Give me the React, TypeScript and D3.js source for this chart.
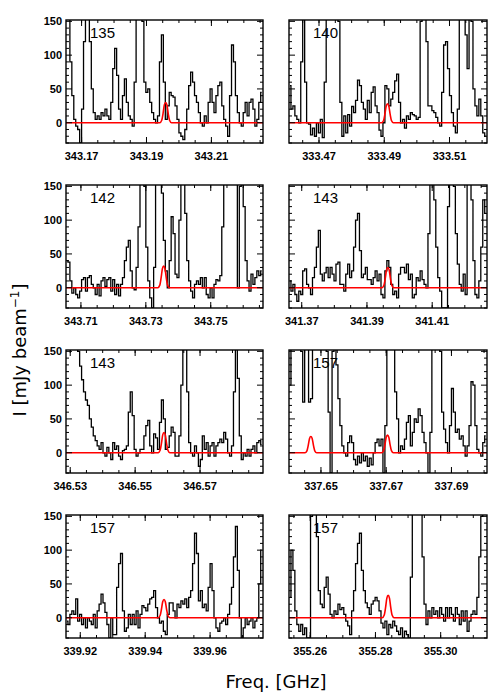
import * as d3 from "d3";
import React from "react";

// panel ids, lower-left tick labels and channel grid
const panelLabels = ["135", "140", "142", "143", "143", "157", "157", "157"];
const freqStart = [343.1655, 333.4611, 343.7057, 341.3664, 346.529, 337.6405, 339.9159, 355.2538];
const chanWidth = 0.0006;
const xTicks = [
  ["343.17", "343.19", "343.21"],
  ["333.47", "333.49", "333.51"],
  ["343.71", "343.73", "343.75"],
  ["341.37", "341.39", "341.41"],
  ["346.53", "346.55", "346.57"],
  ["337.65", "337.67", "337.69"],
  ["339.92", "339.94", "339.96"],
  ["355.26", "355.28", "355.30"],
];
const yTicks = [0, 50, 100, 150];

// red model lines: centre (GHz) and peak (mJy/beam), plus profile
const modelCenters = [[343.1959], [333.491], [343.7355], [341.3964], [346.5589], [337.6469, 337.6704], [339.9458], [355.2839]];
const modelPeaks = [[30], [28], [32], [30], [30], [24, 26], [27], [33]];
const profileOffsets = [-0.0018, -0.0012, -0.0008, -0.0004, 0, 0.0004, 0.0008, 0.0012, 0.0018];
const profileFracs = [0, 0.12, 0.45, 0.88, 1, 0.88, 0.45, 0.12, 0];

const spec135 = [200, 160, 90, 40, 5, -5, -10, -30, 20, 120, 200, 200, 120, 50, 15, 5, 10, 5, 15, 10,
  20, 10, 5, 30, 80, 110, 70, 20, 5, 40, 65, 30, 10, 5, -5, 60, 200, 200, 200, 150,
  60, 45, 50, 30, 15, 5, 0, 10, 90, 130, 60, 5, 25, 45, 40, 38, 25, 5, -15, -20,
  -25, -10, 20, 55, 75, 60, 40, 30, 15, 0, -5, 10, 0, 30, 50, 30, 15, 40, 55, 60,
  25, 5, -5, -20, 40, 115, 90, 40, 15, 0, -5, 15, 30, 10, 30, 35, 20, -5, 5, 30, 45];
const spec140 = [55, 20, 25, 10, 5, 0, 90, 200, 60, 0, -2, -18, -8, -20, 0, -15, 5, -22, 60, 200,
  200, 200, 200, 200, 200, 150, 30, -20, 10, -15, 12, -5, 24, 15, 33, 63, 55, 30, 20, 5,
  33, 15, 45, 53, 25, 15, -11, -20, 0, 55, 50, 25, 35, 45, 62, 72, 30, 0, 5, -8,
  10, 5, 15, 12, 10, 5, 8, 150, 200, 200, 120, 25, 25, 18, 15, 8, 0, -5, 45, 115,
  120, 80, 40, 15, -5, -15, 20, 200, 200, 200, 130, 80, 200, 150, 50, 25, 10, 35, 10, -15, -20];
const spec142 = [40, 38, 10, -8, 0, -10, -15, -5, 12, 15, -5, 15, 18, 5, 0, -10, 5, -12, 10, 15,
  2, 12, 15, -5, 12, -10, 5, -12, 5, 15, 40, 60, 70, 25, 0, -3, 30, 90, 160, 200,
  150, 60, 10, -15, -30, 30, 200, 200, 200, 140, 70, 25, 0, 40, 105, 80, 20, 15, 100, 200,
  200, 110, 40, 10, -5, -15, 5, 10, 5, 15, 0, 15, -10, -15, 0, -15, 5, 12, 10, 18,
  90, 200, 200, 200, 200, 200, 200, 200, 0, 150, 200, 120, 40, 10, -5, 20, 5, 15, 25, 18, 25];
const spec143a = [10, -5, 5, -10, -20, -5, -10, 25, 28, 5, 0, -10, 15, 30, 60, 85, 20, 10, 22, 30,
  15, 30, 20, 10, 35, 38, 5, 5, -5, 20, 35, 15, 25, 60, 100, 110, 55, 15, 20, 30,
  12, 12, 5, 15, 25, 10, 20, -10, -15, 25, 40, 30, 5, -10, -5, -15, 20, 30, 30, 22,
  35, 12, 20, -15, -10, 15, 10, 25, 12, 5, 0, 80, 200, 200, 130, 60, 15, -5, -30, -30,
  -30, 120, 200, 200, 150, 80, 35, 5, -5, 20, -10, 200, 200, 130, 40, -10, -15, 10, 60, 130, 110];
const spec143b = [200, 200, 200, 200, 200, 200, 150, 128, 108, 90, 78, 70, 50, 38, 25, 18, 10, 5, 15, 0,
  -5, 8, 0, -10, 15, 5, 10, -5, -10, 3, 5, 10, 60, 90, 55, 5, -5, 0, 5, 5,
  25, 40, 48, 10, 0, 28, 22, 5, 45, 78, 50, 5, 8, 25, 38, 30, -5, -5, 25, 100,
  200, 200, 90, 15, 0, -5, 10, 0, -20, -10, 25, 5, 15, -5, 10, 15, -5, 10, 15, 20,
  15, 30, 20, 0, -5, 10, 90, 200, 110, 25, -10, 0, -5, 5, -5, 5, 10, 0, 15, 18, 12];
const spec157a = [100, 200, 200, 200, 200, 200, 150, 75, 200, 200, 75, 80, 200, 200, 200, 200, 200, 200, 200, 150,
  60, -30, 150, 200, 130, 80, 40, 10, 0, -5, 15, 25, 15, -10, -18, -5, -15, 0, -12, -5,
  -20, -8, -18, 0, 15, 20, 10, 20, -30, 40, 200, 200, 200, 160, 90, 50, 0, 10, 5, 20,
  45, 55, 10, 30, 50, 45, 65, 55, 30, 15, 0, -30, 30, 200, 200, 200, 200, 150, 60, 35,
  15, 0, 40, 95, 60, 30, 35, 20, 25, 10, -5, 10, 40, 105, 100, 40, 5, 0, -5, 15, 25];
const spec157b = [-5, -10, 5, 10, 5, 28, -5, 5, -10, 0, -15, 0, -5, -10, 5, -15, 10, 20, 35, 22,
  8, -10, -30, 0, -25, -25, 45, 80, 95, 10, -20, -15, 5, -10, 5, -10, 10, -15, 5, 18,
  15, 10, 20, 28, 30, 40, 15, 0, -8, -5, -20, -25, 5, 22, 22, 10, 0, 20, 15, 25,
  20, 28, 15, 30, 40, 80, 125, 95, 25, 40, 15, 20, 10, 45, 80, 40, 0, -15, -20, -8,
  -5, 0, -10, 5, 20, 45, 90, 135, 70, 0, -30, -15, 0, -10, -5, 0, -15, -5, 0, 50, 100];
const spec157c = [30, 100, 70, 10, -10, -20, -10, -25, -15, -30, -30, 150, 200, 200, 120, 40, 20, 15, 45, 60,
  35, 5, 0, 10, 5, 20, 12, 15, 5, -5, -12, -25, 10, 40, 80, 110, 125, 70, 40, 22,
  15, 5, 20, 25, 30, 25, 10, -8, -15, -5, -25, -10, -15, -5, -12, -20, -25, -15, -30, -20,
  -25, -30, 60, 170, 200, 200, 200, 160, 90, 20, -10, 10, 0, 15, 5, 10, 0, 15, 5, -5,
  15, 0, 15, 5, -5, 15, 5, -10, 10, -5, 10, -20, -5, 5, 10, 5, 30, 90, 150, 200, 200];

const spectra = [spec135, spec140, spec142, spec143a, spec143b, spec157a, spec157b, spec157c];

const panelSpan = 0.0607;
const colLeft = [66, 289];
const colWidth = [197, 198];
const rowTop = [20, 185, 350, 515];
const panelH = 123;
const yDomain = [-30, 152];
const tickFont = "'Liberation Sans', Arial, sans-serif";

function Panel({ idx }: { idx: number }) {
  const col = idx % 2;
  const row = Math.floor(idx / 2);
  const left = colLeft[col];
  const w = colWidth[col];
  const top = rowTop[row];
  const x0 = freqStart[idx] - chanWidth / 2;
  const x = d3.scaleLinear().domain([x0, x0 + panelSpan]).range([left, left + w]);
  const y = d3.scaleLinear().domain(yDomain).range([top + panelH, top]);
  const data = spectra[idx];

  // histogram-style spectrum
  const specLine = d3
    .line<number>()
    .x((d, i) => x(freqStart[idx] + i * chanWidth))
    .y((d) => y(d))
    .curve(d3.curveStep);

  const modelPts: [number, number][] = [[x0, 0]];
  modelCenters[idx].forEach((c, k) => {
    profileOffsets.forEach((o, j) => modelPts.push([c + o, modelPeaks[idx][k] * profileFracs[j]]));
  });
  modelPts.push([x0 + panelSpan, 0]);
  const modelLine = d3
    .line<[number, number]>()
    .x((d) => x(d[0]))
    .y((d) => y(d[1]))
    .curve(d3.curveMonotoneX);

  const minorY = d3.range(-30, 151, 10);
  const firstMinor = Math.ceil(x0 / 0.005) * 0.005;
  const minorX = d3.range(firstMinor, x0 + panelSpan, 0.005);
  const clipId = `clip${idx}`;

  return (
    <g>
      <defs>
        <clipPath id={clipId}>
          <rect x={left} y={top} width={w} height={panelH} />
        </clipPath>
      </defs>
      <g clipPath={`url(#${clipId})`}>
        <path d={specLine(data) || ""} fill="none" stroke="#000" strokeWidth={1.3} />
        <path d={modelLine(modelPts) || ""} fill="none" stroke="#f00" strokeWidth={1.6} />
      </g>
      {minorY.map((v) => {
        const len = v % 50 === 0 ? 6 : 3;
        return (
          <g key={"y" + v}>
            <line x1={left} x2={left + len} y1={y(v)} y2={y(v)} stroke="#000" strokeWidth={1} />
            <line x1={left + w - len} x2={left + w} y1={y(v)} y2={y(v)} stroke="#000" strokeWidth={1} />
          </g>
        );
      })}
      {minorX.map((v, i) => (
        <g key={"mx" + i}>
          <line x1={x(v)} x2={x(v)} y1={top + panelH} y2={top + panelH - 3} stroke="#000" strokeWidth={1} />
          <line x1={x(v)} x2={x(v)} y1={top} y2={top + 3} stroke="#000" strokeWidth={1} />
        </g>
      ))}
      {xTicks[idx].map((t) => (
        <g key={t}>
          <line x1={x(+t)} x2={x(+t)} y1={top + panelH} y2={top + panelH - 6} stroke="#000" strokeWidth={1} />
          <line x1={x(+t)} x2={x(+t)} y1={top} y2={top + 6} stroke="#000" strokeWidth={1} />
          <text x={x(+t)} y={top + panelH + 17} textAnchor="middle" fontFamily={tickFont} fontWeight="bold" fontSize={11}>
            {t}
          </text>
        </g>
      ))}
      {col === 0 &&
        yTicks.map((v) => (
          <text key={"yl" + v} x={left - 4} y={y(v)} dy="0.36em" textAnchor="end" fontFamily={tickFont} fontWeight="bold" fontSize={11}>
            {v}
          </text>
        ))}
      <rect x={left} y={top} width={w} height={panelH} fill="none" stroke="#000" strokeWidth={1.4} />
      <text x={left + 24} y={top + 18} fontFamily={tickFont} fontSize={15}>
        {panelLabels[idx]}
      </text>
    </g>
  );
}

export default function App() {
  return (
    <svg width={500} height={700} style={{ position: "absolute", left: 0, top: 0, background: "#fff" }}>
      <rect width={500} height={700} fill="#fff" />
      {panelLabels.map((_, i) => (
        <Panel key={i} idx={i} />
      ))}
      <text x={276} y={688} textAnchor="middle" fontFamily="'DejaVu Sans', sans-serif" fontSize={18}>
        Freq. [GHz]
      </text>
      <text transform="translate(26,350) rotate(-90)" textAnchor="middle" fontFamily="'DejaVu Sans', sans-serif" fontSize={18}>
        I [mJy beam
        <tspan fontSize={12} dy={-7}>−1</tspan>
        <tspan dy={7}>]</tspan>
      </text>
    </svg>
  );
}
